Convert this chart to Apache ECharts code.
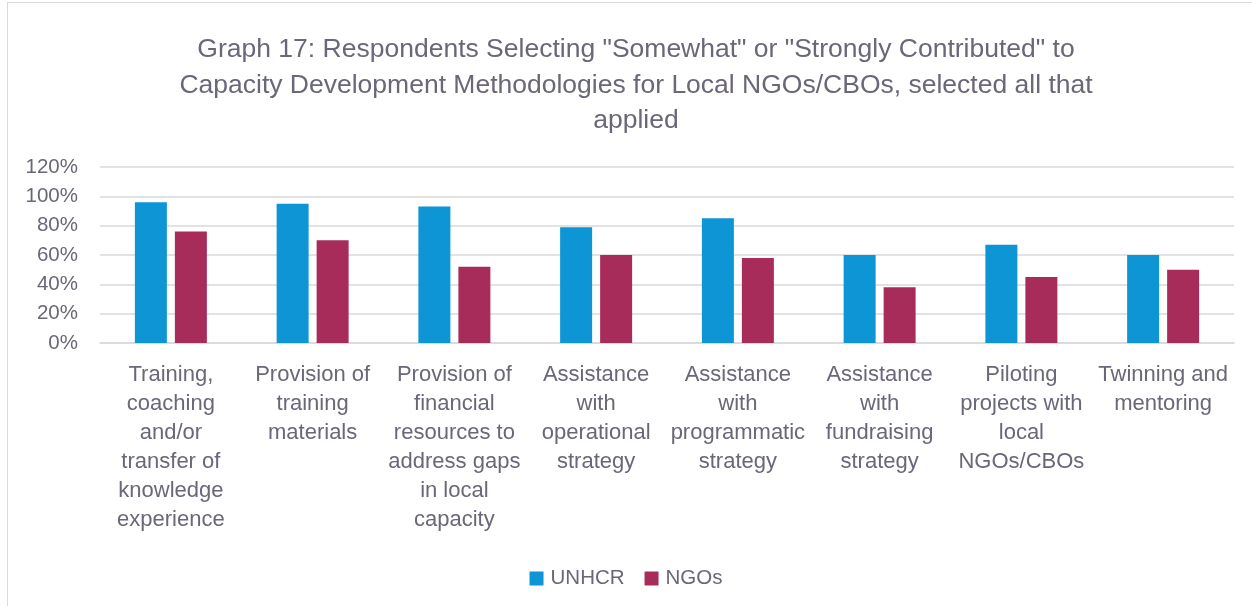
<!DOCTYPE html>
<html>
<head>
<meta charset="utf-8">
<script src="https://cdn.jsdelivr.net/npm/echarts@6/dist/echarts.min.js"></script>
<style>
  html, body { margin: 0; padding: 0; background: #fff; }
  #frame { position: absolute; left: 7px; top: 2px; width: 1260px; height: 620px; border: 1px solid #d9d9d9; }
  #chart { position: absolute; left: 0; top: 0; width: 1252px; height: 606px; }
</style>
</head>
<body>
<div id="frame"></div>
<div id="chart"></div>
<script>
// Chart data
const categories = [
    'Training,\ncoaching\nand/or\ntransfer of\nknowledge\nexperience',
    'Provision of\ntraining\nmaterials',
    'Provision of\nfinancial\nresources to\naddress gaps\nin local\ncapacity',
    'Assistance\nwith\noperational\nstrategy',
    'Assistance\nwith\nprogrammatic\nstrategy',
    'Assistance\nwith\nfundraising\nstrategy',
    'Piloting\nprojects with\nlocal\nNGOs/CBOs',
    'Twinning and\nmentoring'
];
const unhcrValues = [0.96, 0.95, 0.93, 0.79, 0.85, 0.60, 0.67, 0.60];
const ngoValues = [0.76, 0.70, 0.52, 0.60, 0.58, 0.38, 0.45, 0.50];
const seriesNames = ['UNHCR', 'NGOs'];

const textColor = '#6b6678';
const fontName = 'Liberation Sans';

let chartElem = document.getElementById('chart');
let chart = echarts.init(chartElem);
chart.setOption({
    color: ['#0e95d6', '#a82c59'],
    textStyle: { fontFamily: fontName },
    title: {
        text: 'Graph 17: Respondents Selecting "Somewhat" or "Strongly Contributed" to\nCapacity Development Methodologies for Local NGOs/CBOs, selected all that\napplied',
        left: 631,
        textAlign: 'center',
        top: 27,
        textStyle: {
            color: textColor,
            fontSize: 26.5,
            fontWeight: 'normal',
            lineHeight: 35.5,
            fontFamily: fontName
        }
    },
    legend: {
        data: seriesNames,
        top: 563,
        left: 'center',
        itemWidth: 14,
        itemHeight: 14,
        itemGap: 20,
        icon: 'rect',
        textStyle: { color: textColor, fontSize: 20.5, fontFamily: fontName, padding: [0, 0, 0, 2] }
    },
    grid: {
        left: 100,
        right: 18,
        top: 167,
        bottom: 263,
        containLabel: false
    },
    xAxis: {
        type: 'category',
        data: categories,
        axisTick: { show: false },
        axisLine: { lineStyle: { color: '#d9d9d9', width: 1.5 } },
        axisLabel: {
            interval: 0,
            color: textColor,
            fontSize: 22,
            lineHeight: 29,
            margin: 17,
            fontFamily: fontName
        }
    },
    yAxis: {
        type: 'value',
        min: 0,
        max: 1.2,
        interval: 0.2,
        axisLine: { show: false },
        axisTick: { show: false },
        splitLine: { lineStyle: { color: '#d9d9d9', width: 1.5 } },
        axisLabel: {
            color: textColor,
            fontSize: 20.5,
            margin: 22,
            fontFamily: fontName,
            formatter: function(v) { return Math.round(v * 100) + '%'; }
        }
    },
    series: [{
        name: seriesNames[0],
        type: 'bar',
        data: unhcrValues,
        barWidth: 32,
        barGap: '25%'
    }, {
        name: seriesNames[1],
        type: 'bar',
        data: ngoValues,
        barWidth: 32,
        barGap: '25%'
    }]
});
</script>
</body>
</html>
